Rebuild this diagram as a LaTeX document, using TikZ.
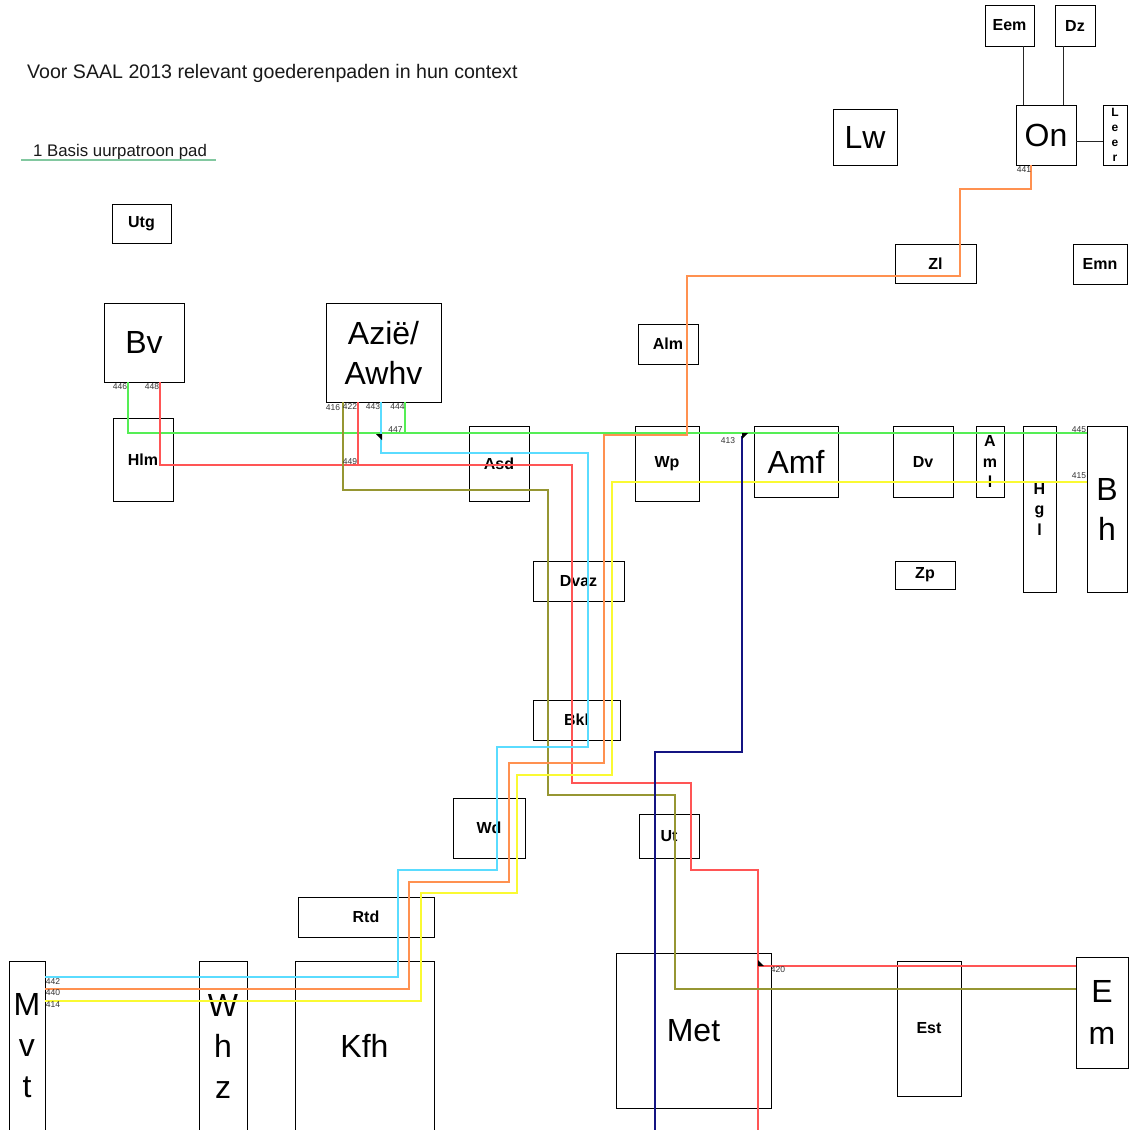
\documentclass[tikz,border=0pt]{standalone}
\usepackage{fontspec}
\setmainfont{Liberation Sans}
\newcommand\FBig{\fontsize{32}{41}\selectfont}
\newcommand\FBold{\fontsize{16}{20.5}\selectfont\bfseries}
\newcommand\FLeer{\fontsize{12}{15}\selectfont\bfseries}
\newcommand\FNum{\fontsize{8.5}{9}\selectfont}
\definecolor{cgreen}{RGB}{85,238,85}
\definecolor{cred}{RGB}{255,85,85}
\definecolor{ccyan}{RGB}{90,220,255}
\definecolor{corange}{RGB}{255,145,80}
\definecolor{cyellow}{RGB}{250,250,50}
\definecolor{colive}{RGB}{150,150,50}
\definecolor{cnavy}{RGB}{20,20,130}
\definecolor{cteal}{RGB}{130,200,160}
\begin{document}
\begin{tikzpicture}[x=1pt,y=-1pt,
  box/.style={draw=black,line width=1pt,inner sep=0pt,outer sep=0pt,align=center},
  big/.style={box,font=\FBig},
  bld/.style={box,font=\FBold},
  num/.style={font=\FNum,text=black!80,inner sep=0pt},
  path/.style={line width=1.4pt},
  link/.style={draw=black!85,line width=1pt}]
\clip (0,0) rectangle (1136,1130);
\fill[white] (0,0) rectangle (1136,1130);

% titles
\node[anchor=base west,inner sep=0pt,font=\fontsize{19.6}{22}\selectfont,text=black!90] (title) at (27,78) {Voor SAAL 2013 relevant goederenpaden in hun context};
\node[anchor=base west,inner sep=0pt,font=\fontsize{16.8}{20}\selectfont,text=black!90] (legend) at (33,156) {1 Basis uurpatroon pad};
\coordinate (lgA) at (21,160);
\coordinate (lgB) at (216,160);
\draw[cteal,line width=1.4pt] (lgA) -- (lgB);

% boxes
\node[bld,minimum width=49pt,minimum height=41pt] (Eem) at (1009.5,25.5) {Eem};
\node[bld,minimum width=40pt,minimum height=41pt] (Dz) at (1075,25.5) {Dz};
\node[big,minimum width=60pt,minimum height=60pt] (On) at (1046,135) {On};
\node[box,font=\FLeer,minimum width=24pt,minimum height=60pt] (Leer) at (1115,135) {L\\e\\e\\r};
\node[big,minimum width=64pt,minimum height=56pt] (Lw) at (865,137) {Lw};
\node[bld,minimum width=81pt,minimum height=39pt] (Zl) at (935.5,263.5) {Zl};
\node[bld,minimum width=54pt,minimum height=40pt] (Emn) at (1100,264) {Emn};
\node[bld,minimum width=59pt,minimum height=39pt] (Utg) at (141.5,223.5) {Utg};
\node[big,minimum width=80pt,minimum height=79pt] (Bv) at (144,342.5) {Bv};
\node[big,font=\fontsize{32}{40}\selectfont,minimum width=115pt,minimum height=99pt] (Az) at (383.5,352.5) {Azië/\\Awhv};
\node[bld,minimum width=60pt,minimum height=40pt] (Alm) at (668,344) {Alm};
\node[bld,minimum width=60pt,minimum height=83pt] (Hlm) at (143,459.5) {Hlm};
\node[bld,minimum width=60pt,minimum height=75pt] (Asd) at (499,463.5) {Asd};
\node[bld,minimum width=64pt,minimum height=75pt] (Wp) at (667,463.5) {Wp};
\node[big,minimum width=84pt,minimum height=71pt] (Amf) at (796,461.5) {Amf};
\node[bld,minimum width=60pt,minimum height=71pt] (Dv) at (923,461.5) {Dv};
\node[bld,minimum width=28pt,minimum height=71pt] (Aml) at (990,461.5) {A\\m\\l};
\node[bld,minimum width=33pt,minimum height=166pt] (Hgl) at (1039.5,509) {H\\g\\l};
\node[big,font=\fontsize{32}{40}\selectfont,minimum width=40pt,minimum height=166pt] (Bh) at (1107,509) {B\\h};
\node[bld,minimum width=60pt,minimum height=28pt] (Zp) at (925,575) {Zp};
\node[bld,minimum width=91pt,minimum height=40pt] (Dvaz) at (578.5,581) {Dvaz};
\node[bld,minimum width=87pt,minimum height=40pt] (Bkl) at (576.5,720) {Bkl};
\node[bld,minimum width=72pt,minimum height=60pt] (Wd) at (489,828) {Wd};
\node[bld,minimum width=60pt,minimum height=44pt] (Ut) at (669,836) {Ut};
\node[bld,minimum width=136pt,minimum height=40pt] (Rtd) at (366,917) {Rtd};
\node[big,minimum width=36pt,minimum height=170pt] (Mvt) at (27,1046) {M\\v\\t};
\node[big,minimum width=48pt,minimum height=170pt] (Whz) at (223,1046) {W\\h\\z};
\node[big,minimum width=139pt,minimum height=170pt] (Kfh) at (364.5,1046) {Kfh};
\node[big,minimum width=155pt,minimum height=155pt] (Met) at (693.5,1030.5) {Met};
\node[bld,minimum width=64pt,minimum height=135pt] (Est) at (929,1028.5) {Est};
\node[big,font=\fontsize{32}{42}\selectfont,minimum width=52pt,minimum height=111pt] (Em) at (1102,1012.5) {E\\m};

% black links
\draw[link] (1023,0 |- Eem.south) -- (1023,0 |- On.north);
\draw[link] (1063,0 |- Dz.south) -- (1063,0 |- On.north);
\draw[link] (On.east |- 0,141) -- (Leer.west |- 0,141);

% goods paths
\draw[path,cgreen] (128,0 |- Bv.south) |- (Bh.west |- 0,433);
\draw[path,cgreen] (405,0 |- Az.south) -- (405,433);
\draw[path,cred] (160,0 |- Bv.south) |- (572,465) |- (691,783) |- (758,870) -- (758,1135);
\draw[path,cred] (358,0 |- Az.south) -- (358,465);
\draw[path,cred] (758,966) -- (Em.west |- 0,966);
\draw[path,colive] (343,0 |- Az.south) |- (548,490) |- (675,795) |- (Em.west |- 0,989);
\draw[path,ccyan] (381,0 |- Az.south) |- (588,453) |- (497,747) |- (398,870) |- (Mvt.east |- 0,977);
\draw[path,corange] (1031,0 |- On.south) |- (960,189) |- (687,276) |- (604,435) |- (509,763) |- (409,882) |- (Mvt.east |- 0,989);
\draw[path,cyellow] (Bh.west |- 0,482) -| (612,775) -| (517,893) -| (421,1001) -- (Mvt.east |- 0,1001);
\draw[path,cnavy] (742,436) |- (655,752) -- (655,1135);

% small markers
\fill[black] (376,434) -- (382,434) -- (382,440) -- cycle;
\fill[black] (742,433) -- (748,433) -- (742,439) -- cycle;
\fill[black] (758,960) -- (758,966) -- (764,966) -- cycle;

% numbers
\node[num] (n446) at (120,387) {446};
\node[num] (n448) at (152,387) {448};
\node[num] (n416) at (333,408) {416};
\node[num] (n422) at (350,407) {422};
\node[num] (n443) at (373,407) {443};
\node[num] (n444) at (397.5,407) {444};
\node[num] (n447) at (395.5,430) {447};
\node[num] (n449) at (350,462) {449};
\node[num] (n413) at (728,441) {413};
\node[num] (n445) at (1079,430) {445};
\node[num] (n415) at (1079,476) {415};
\node[num] (n441) at (1024,169.5) {441};
\node[num] (n420) at (778,970) {420};
\node[num] (n442) at (53,981.5) {442};
\node[num] (n440) at (53,993) {440};
\node[num] (n414) at (53,1005) {414};
\end{tikzpicture}
\end{document}
